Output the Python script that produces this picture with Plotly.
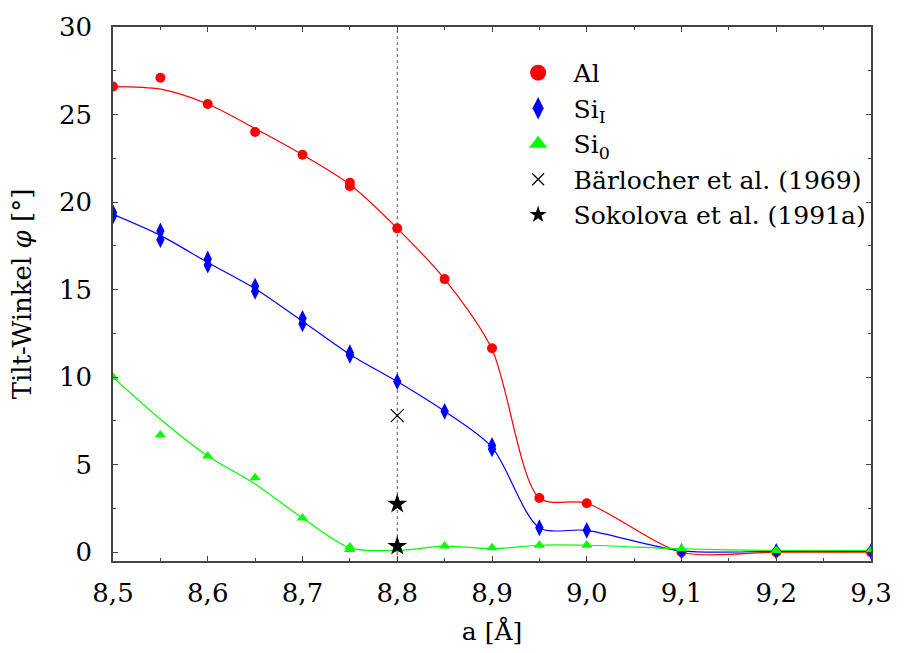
import plotly.graph_objects as go

# ---- data ----
al_x = [8.5, 8.55, 8.6, 8.65, 8.7, 8.75, 8.75, 8.8, 8.85, 8.9, 8.95, 9.0, 9.1, 9.2, 9.3]
al_y = [26.6, 27.1, 25.6, 24.0, 22.7, 21.1, 20.9, 18.5, 15.6, 11.65, 3.1, 2.8, 0.0, 0.0, 0.0]

si1_x = [8.5, 8.5, 8.55, 8.55, 8.6, 8.6, 8.65, 8.65, 8.7, 8.7, 8.75, 8.75, 8.8, 8.85,
         8.9, 8.9, 8.95, 9.0, 9.1, 9.2, 9.3]
si1_y = [19.4, 19.2, 18.35, 17.85, 16.75, 16.4, 15.2, 14.9, 13.35, 13.05, 11.4, 11.25, 9.75, 8.05,
         6.1, 5.9, 1.4, 1.25, 0.05, 0.05, 0.05]

si0_x = [8.5, 8.55, 8.6, 8.65, 8.7, 8.75, 8.75, 8.8, 8.85, 8.9, 8.95, 9.0, 9.1, 9.2, 9.3]
si0_y = [10.0, 6.7, 5.5, 4.25, 1.95, 0.3, 0.15, 0.15, 0.35, 0.25, 0.4, 0.4, 0.2, 0.1, 0.1]

# smoothed fit curves (values of the drawn curves at the nodes)
fit_x = [8.5, 8.55, 8.6, 8.65, 8.7, 8.75, 8.8, 8.85, 8.9, 8.95, 9.0, 9.1, 9.2, 9.3]
al_fit = [26.6, 26.45, 25.6, 24.2, 22.7, 21.0, 18.5, 15.6, 11.6, 3.1, 2.8, 0.0, 0.0, 0.0]
si1_fit = [19.3, 18.1, 16.55, 15.05, 13.2, 11.3, 9.75, 8.05, 6.0, 1.4, 1.25, 0.08, 0.05, 0.05]
si0_fit = [10.0, 7.6, 5.5, 3.9, 1.95, 0.25, 0.1, 0.35, 0.2, 0.4, 0.4, 0.2, 0.1, 0.1]

baer_x = [8.8]
baer_y = [7.8]
soko_x = [8.8, 8.8]
soko_y = [2.75, 0.35]

ref_a = 8.8

x_ticks = [8.5, 8.6, 8.7, 8.8, 8.9, 9.0, 9.1, 9.2, 9.3]
y_ticks = [0, 5, 10, 15, 20, 25, 30]

FONT = "'DejaVu Serif', serif"
RED, BLUE, GREEN = "#ff0000", "#0000ff", "#00ff00"
AX = "#444444"

fig = go.Figure()

# fit curves
for fy, col in [(al_fit, RED), (si1_fit, BLUE), (si0_fit, GREEN)]:
    fig.add_trace(go.Scatter(x=fit_x, y=fy, mode="lines", showlegend=False,
                             line=dict(color=col, width=1.2, shape="spline", smoothing=0.8),
                             hoverinfo="skip"))

series = [
    (al_x, al_y, "Al", "circle", 10, RED),
    (si1_x, si1_y, "Si<sub>I</sub>", "diamond-tall", 12, BLUE),
    (si0_x, si0_y, "Si<sub>0</sub>", "triangle-up", 10, GREEN),
]
for sx, sy, name, sym, sz, col in series:
    fig.add_trace(go.Scatter(x=sx, y=sy, mode="markers", name=name, showlegend=False,
                             marker=dict(symbol=sym, size=sz, color=col)))
fig.add_trace(go.Scatter(x=baer_x, y=baer_y, mode="markers", showlegend=False,
                         name="Bärlocher et al. (1969)",
                         marker=dict(symbol="x-thin", size=13, color="black",
                                     line=dict(color="black", width=1.2))))
fig.add_trace(go.Scatter(x=soko_x, y=soko_y, mode="markers", showlegend=False,
                         name="Sokolova et al. (1991a)",
                         marker=dict(symbol="star", size=15, color="black")))

# legend entries (larger symbols, as in the reference key)
legend_entries = [
    ("Al", dict(symbol="circle", size=16, color=RED)),
    ("Si<sub>I</sub>", dict(symbol="diamond-tall", size=16, color=BLUE)),
    ("Si<sub>0</sub>", dict(symbol="triangle-up", size=16, color=GREEN)),
    ("Bärlocher et al. (1969)", dict(symbol="x-thin", size=12, color="black",
                                     line=dict(color="black", width=1.2))),
    ("Sokolova et al. (1991a)", dict(symbol="star", size=13, color="black")),
]
for name, mk in legend_entries:
    fig.add_trace(go.Scatter(x=[None], y=[None], mode="markers", name=name,
                             marker=mk, showlegend=True, hoverinfo="skip"))

fig.add_vline(x=ref_a, line=dict(color="#555555", width=1, dash="dot"), layer="below")

axis_common = dict(showline=True, linecolor=AX, linewidth=1.5, mirror="allticks",
                   ticks="inside", ticklen=5, tickwidth=1, tickcolor=AX,
                   showgrid=False, zeroline=False,
                   tickfont=dict(family=FONT, size=26, color="black"))

fig.update_xaxes(range=[8.5, 9.3], tickvals=x_ticks,
                 ticktext=[f"{v:.1f}".replace(".", ",") for v in x_ticks],
                 minor=dict(ticks="inside", ticklen=3, dtick=0.05, tickcolor=AX),
                 ticklabelstandoff=8,
                 title=dict(text="a [Å]", font=dict(family=FONT, size=25, color="black"),
                            standoff=16),
                 **axis_common)
fig.update_yaxes(range=[-0.5, 30], tickvals=y_ticks,
                 minor=dict(ticks="inside", ticklen=3, dtick=2.5, tickcolor=AX),
                 ticklabelstandoff=14,
                 title=dict(text="Tilt-Winkel <i>φ</i> [°]",
                            font=dict(family=FONT, size=26, color="black"), standoff=20),
                 **axis_common)

fig.update_layout(
    width=904, height=653,
    margin=dict(l=113, r=27, t=24, b=90),
    paper_bgcolor="white", plot_bgcolor="white",
    font=dict(family=FONT, size=25, color="black"),
    showlegend=True,
    legend=dict(x=0.514, y=0.957, xanchor="left", yanchor="top",
                bgcolor="rgba(0,0,0,0)", itemwidth=61, tracegroupgap=0,
                font=dict(family=FONT, size=25, color="black")),
)

fig.write_html("out.html", config={"displayModeBar": False},
               post_script="document.body.style.margin='0';document.body.style.overflow='hidden';")
